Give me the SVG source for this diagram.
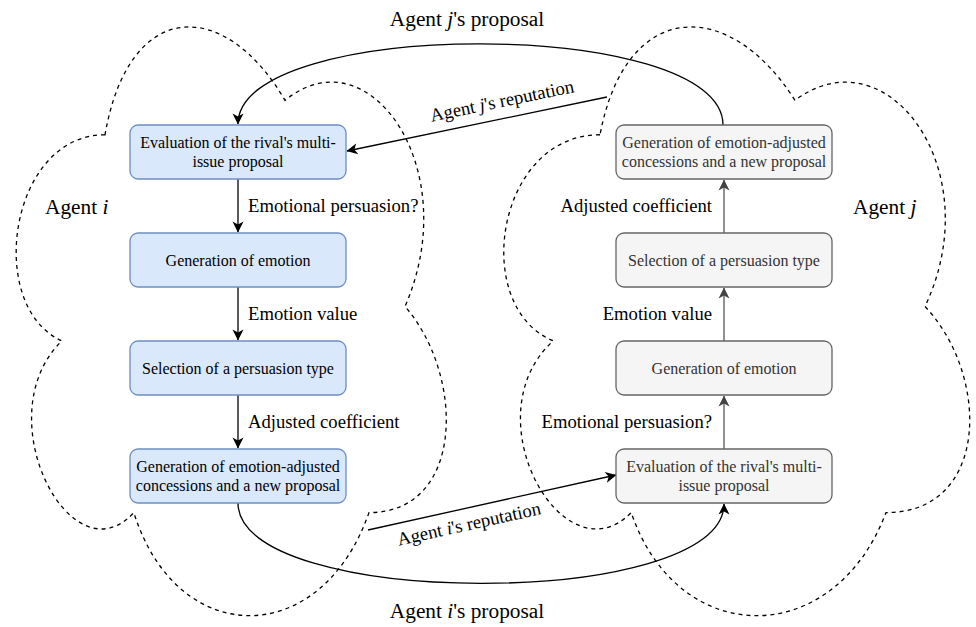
<svg xmlns="http://www.w3.org/2000/svg" width="976" height="627" viewBox="0 0 976 627">
<style>
.cloud{fill:none;stroke:#000;stroke-width:1.3;stroke-dasharray:4 4}
.boxi{fill:#dae8fc;stroke:#6c8ebf;stroke-width:1.3}
.boxj{fill:#f5f5f5;stroke:#666666;stroke-width:1.3}
.bt{font-family:"Liberation Serif","Times New Roman",serif;font-size:16px;text-anchor:middle}
.ti{fill:#000}
.tj{fill:#333333}
.lbl{font-family:"Liberation Serif","Times New Roman",serif;font-size:18.67px;fill:#000}
.big{font-family:"Liberation Serif","Times New Roman",serif;font-size:21.33px;fill:#000}
.edge{fill:none;stroke:#000;stroke-width:1.3}
.edgej{fill:none;stroke:#555;stroke-width:1.3}
</style>
<defs>
<marker id="ah" markerUnits="userSpaceOnUse" viewBox="0 0 12 12" refX="11.5" refY="6" markerWidth="12" markerHeight="12" orient="auto">
<path d="M12,6 L1,0.5 L4,6 L1,11.5 Z" fill="#000"/>
</marker>
<marker id="ahg" markerUnits="userSpaceOnUse" viewBox="0 0 12 12" refX="11.5" refY="6" markerWidth="12" markerHeight="12" orient="auto">
<path d="M12,6 L1,0.5 L4,6 L1,11.5 Z" fill="#444"/>
</marker>
</defs>
<g id="agent-i-cloud">
<path class="cloud" d="M 105 134.75 C 9 134.75, -15 306.5, 61.8 340.85 C -15 416.42, 71.4 581.3, 133.8 512.6 C 177 650, 321 650, 369 512.6 C 465 512.6, 465 375.2, 405 306.5 C 465 169.1, 369 31.7, 285 100.4 C 225 -2.65, 129 -2.65, 105 134.75 Z"/>
<text class="big" x="45" y="214">Agent <tspan font-style="italic">i</tspan></text>
</g>
<g id="agent-j-cloud">
<path class="cloud" d="M 600 134.75 C 496 134.75, 470 306.5, 553.2 340.85 C 470 416.42, 563.6 581.3, 631.2 512.6 C 678 650, 834 650, 886 512.6 C 990 512.6, 990 375.2, 925 306.5 C 990 169.1, 886 31.7, 795 100.4 C 730 -2.65, 626 -2.65, 600 134.75 Z"/>
<text class="big" x="853" y="214">Agent <tspan font-style="italic">j</tspan></text>
</g>
<g id="connectors">
<path class="edge" d="M238 179 L238 232" marker-end="url(#ah)"/>
<path class="edge" d="M238 287 L238 340" marker-end="url(#ah)"/>
<path class="edge" d="M238 395 L238 448" marker-end="url(#ah)"/>
<path class="edgej" d="M724 449 L724 396" marker-end="url(#ahg)"/>
<path class="edgej" d="M724 341 L724 288" marker-end="url(#ahg)"/>
<path class="edgej" d="M724 233 L724 180" marker-end="url(#ahg)"/>
<path class="edge" d="M723 125 C 723 17, 238 17, 238 124" marker-end="url(#ah)"/>
<path class="edge" d="M238 503 C 238 610, 724 610, 724 504" marker-end="url(#ah)"/>
<path class="edge" d="M607 97 L347 151" marker-end="url(#ah)"/>
<path class="edge" d="M368 530 L616 475" marker-end="url(#ah)"/>
<text class="lbl" x="248" y="212">Emotional persuasion?</text>
<text class="lbl" x="248" y="320">Emotion value</text>
<text class="lbl" x="248" y="428">Adjusted coefficient</text>
<text class="lbl" x="712" y="212" text-anchor="end">Adjusted coefficient</text>
<text class="lbl" x="712" y="320" text-anchor="end">Emotion value</text>
<text class="lbl" x="712" y="428" text-anchor="end">Emotional persuasion?</text>
<text class="big" x="467" y="26" text-anchor="middle">Agent <tspan font-style="italic">j</tspan>'s proposal</text>
<text class="big" x="467" y="618" text-anchor="middle">Agent <tspan font-style="italic">i</tspan>'s proposal</text>
<text class="lbl" transform="translate(502,101) rotate(-11.7)" x="0" y="6" text-anchor="middle">Agent <tspan font-style="italic">j</tspan>'s reputation</text>
<text class="lbl" transform="translate(469,524) rotate(-12.5)" x="0" y="6" text-anchor="middle">Agent <tspan font-style="italic">i</tspan>'s reputation</text>
</g>
<g id="i-eval">
<rect class="boxi" x="130" y="125" width="216" height="54" rx="8"/>
<text class="bt ti" x="238" y="148">Evaluation of the rival's multi-</text>
<text class="bt ti" x="238" y="167">issue proposal</text>
</g>
<g id="i-emotion">
<rect class="boxi" x="130" y="233" width="216" height="54" rx="8"/>
<text class="bt ti" x="238" y="265.5">Generation of emotion</text>
</g>
<g id="i-select">
<rect class="boxi" x="130" y="341" width="216" height="54" rx="8"/>
<text class="bt ti" x="238" y="373.5">Selection of a persuasion type</text>
</g>
<g id="i-generate">
<rect class="boxi" x="130" y="449" width="216" height="54" rx="8"/>
<text class="bt ti" x="238" y="472">Generation of emotion-adjusted</text>
<text class="bt ti" x="238" y="491">concessions and a new proposal</text>
</g>
<g id="j-generate">
<rect class="boxj" x="616" y="125" width="216" height="54" rx="8"/>
<text class="bt tj" x="724" y="148">Generation of emotion-adjusted</text>
<text class="bt tj" x="724" y="167">concessions and a new proposal</text>
</g>
<g id="j-select">
<rect class="boxj" x="616" y="233" width="216" height="54" rx="8"/>
<text class="bt tj" x="724" y="265.5">Selection of a persuasion type</text>
</g>
<g id="j-emotion">
<rect class="boxj" x="616" y="341" width="216" height="54" rx="8"/>
<text class="bt tj" x="724" y="373.5">Generation of emotion</text>
</g>
<g id="j-eval">
<rect class="boxj" x="616" y="449" width="216" height="54" rx="8"/>
<text class="bt tj" x="724" y="472">Evaluation of the rival's multi-</text>
<text class="bt tj" x="724" y="491">issue proposal</text>
</g>
</svg>
